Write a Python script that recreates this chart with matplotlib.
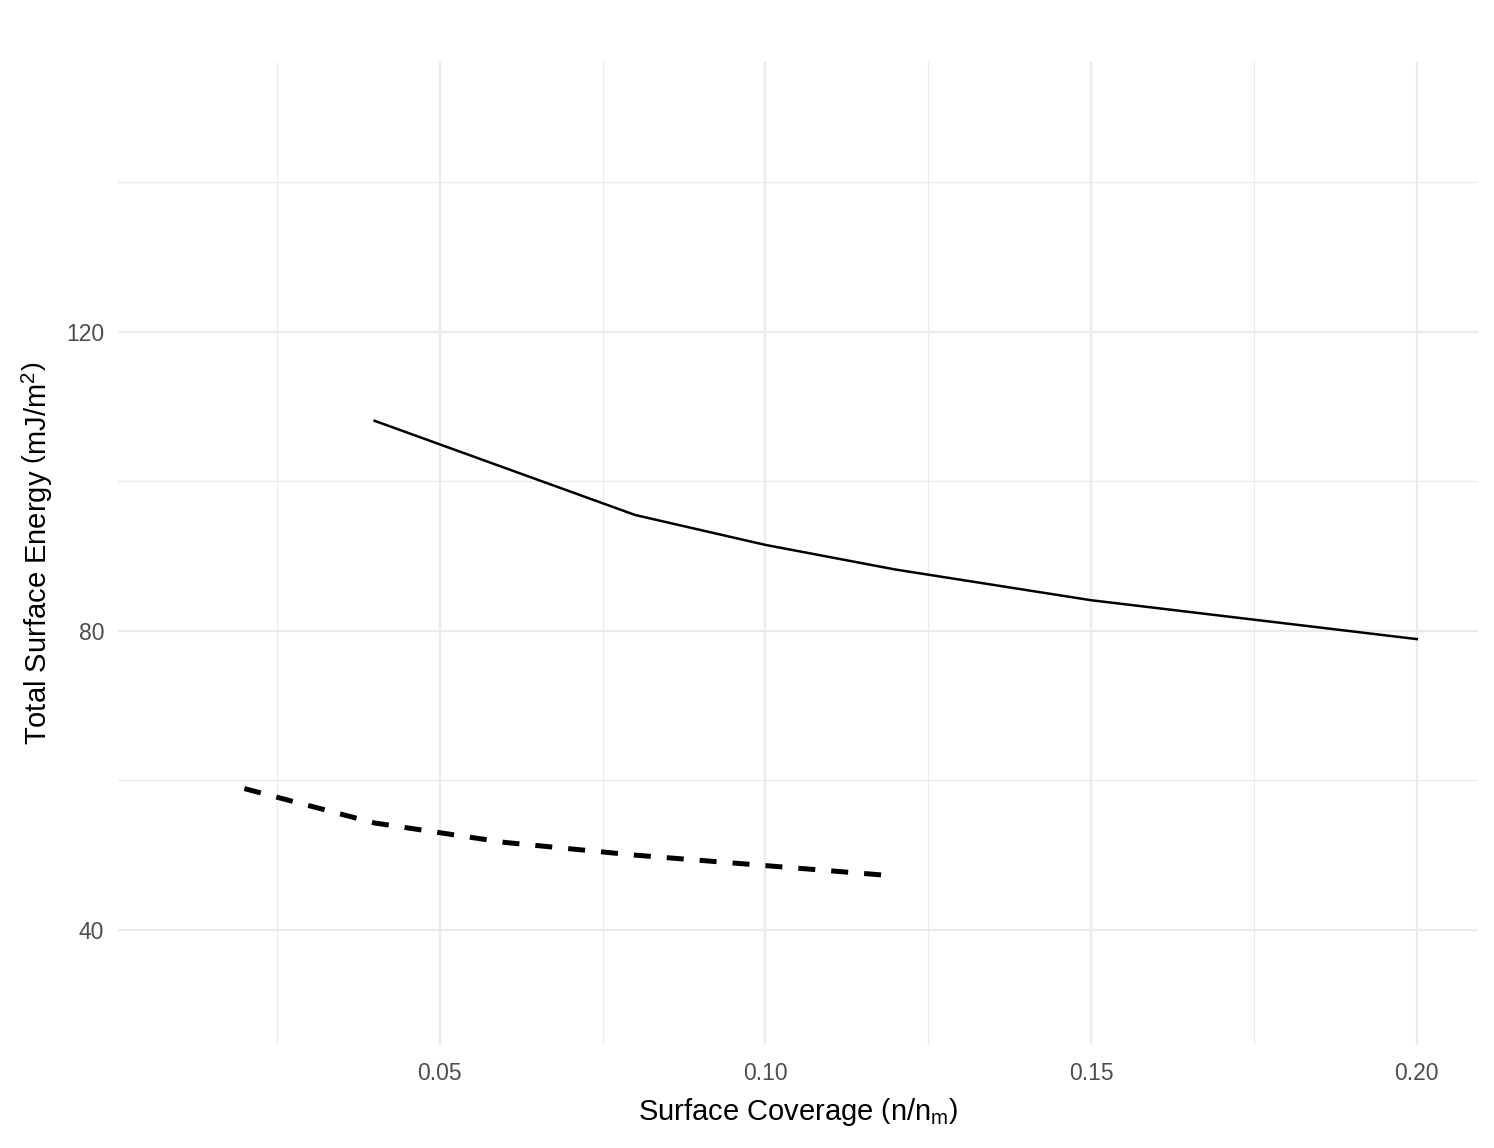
import matplotlib.pyplot as plt
from matplotlib.ticker import MultipleLocator

# datos
cov_solid = [0.04, 0.08, 0.10, 0.12, 0.15, 0.20]
energy_solid = [108.1, 95.5, 91.5, 88.2, 84.1, 78.9]

cov_dashed = [0.02, 0.04, 0.06, 0.08, 0.10, 0.12]
energy_dashed = [58.9, 54.3, 51.7, 50.0, 48.6, 47.2]

x_ticks = [0.05, 0.10, 0.15, 0.20]
x_labels = ['0.05', '0.10', '0.15', '0.20']
y_ticks = [40, 80, 120]

plt.rcParams['font.family'] = ['Liberation Sans', 'DejaVu Sans']
plt.rcParams['mathtext.fontset'] = 'custom'
plt.rcParams['mathtext.rm'] = 'Liberation Sans'
plt.rcParams['mathtext.it'] = 'Liberation Sans'

fig = plt.figure(figsize=(14.94, 11.48), dpi=100)
ax = fig.add_axes([118 / 1494, 1 - 1045 / 1148, (1478 - 118) / 1494, (1045 - 62) / 1148])

ax.plot(cov_solid, energy_solid, color='black', lw=1.8, solid_joinstyle='round')
ax.plot(cov_dashed, energy_dashed, color='black', lw=3.6, dashes=(3.4, 3.2),
        dash_capstyle='butt')

ax.set_xlim(0.0006, 0.2094)
ax.set_ylim(24.6, 156.1)

ax.set_xticks(x_ticks)
ax.set_xticklabels(x_labels)
ax.set_yticks(y_ticks)
ax.xaxis.set_minor_locator(MultipleLocator(0.025))
ax.yaxis.set_minor_locator(MultipleLocator(20))

ax.grid(which='major', color='#EBEBEB', lw=1.6)
ax.grid(which='minor', color='#EBEBEB', lw=0.8)
ax.set_axisbelow(True)
for s in ax.spines.values():
    s.set_visible(False)

ax.tick_params(which='both', length=0)
ax.tick_params(axis='x', pad=12, labelsize=16.5, labelcolor='#4D4D4D')
ax.tick_params(axis='y', pad=10, labelsize=16.5, labelcolor='#4D4D4D')

ax.set_xlabel(r'Surface Coverage $\left(\mathrm{n / n_m}\right)$', fontsize=21, labelpad=8)
ax.set_ylabel(r'Total Surface Energy $\left(\mathrm{mJ / m^2}\right)$', fontsize=21, labelpad=8)

fig.savefig('out.png', dpi=100, facecolor='white')
